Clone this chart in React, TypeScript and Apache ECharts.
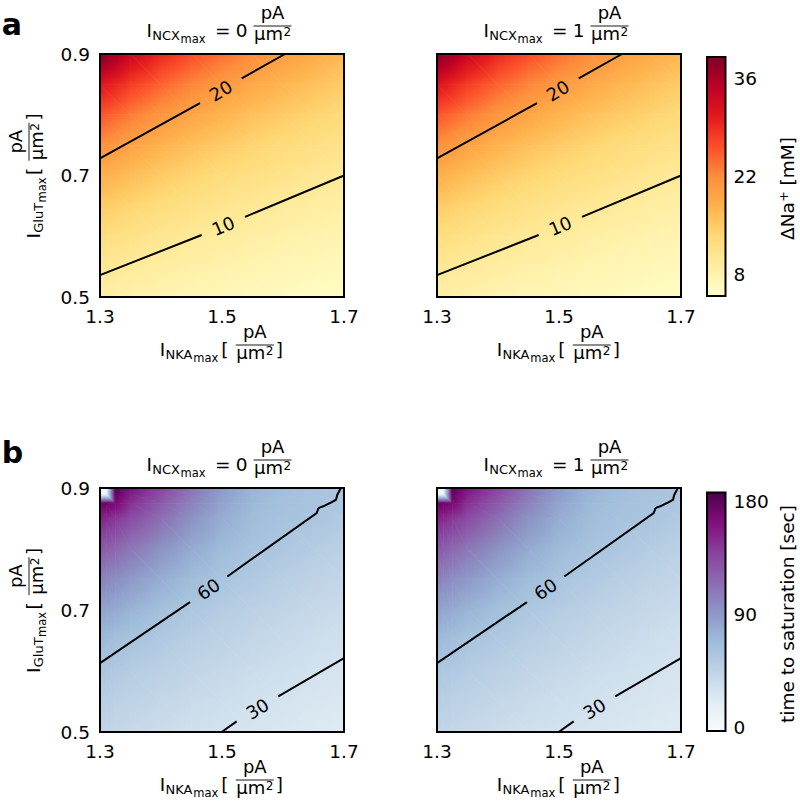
import React, { useEffect, useRef } from 'react';
import * as echarts from 'echarts';

const FONT = 'DejaVu Sans';

// ---------------- data ----------------
// axis ticks
const xTickValues = [1.3, 1.5, 1.7];
const yTickValues = [0.5, 0.7, 0.9];
const ncxValues = ['0', '1'];

// Panel a: ΔNa+ [mM] at grid nodes (rows top 0.9 -> bottom 0.5)
const naXNodes = [1.3, 1.35, 1.4, 1.45, 1.5, 1.55, 1.6, 1.65, 1.7];
const naYNodes = [0.9, 0.85, 0.8, 0.75, 0.7, 0.65, 0.6, 0.55, 0.5];
const naValues = [
  [39.0, 33.5, 29.3, 26.5, 24.0, 21.9, 20.1, 18.6, 17.2],
  [31.5, 27.7, 24.8, 22.5, 20.6, 18.9, 17.4, 16.2, 15.0],
  [25.9, 23.3, 21.0, 19.2, 17.6, 16.2, 15.1, 14.1, 13.1],
  [21.7, 19.6, 17.8, 16.3, 15.1, 14.0, 13.0, 12.2, 11.5],
  [18.1, 16.5, 15.1, 13.9, 12.9, 12.0, 11.3, 10.6, 10.0],
  [15.1, 13.9, 12.8, 11.9, 11.0, 10.4, 9.7, 9.2, 8.7],
  [12.6, 11.7, 10.8, 10.1, 9.5, 8.9, 8.4, 8.0, 7.6],
  [10.5, 9.8, 9.1, 8.6, 8.1, 7.7, 7.3, 7.0, 6.7],
  [8.8, 8.2, 7.7, 7.3, 6.9, 6.6, 6.3, 6.0, 5.8],
];
const naRange = [5, 39];
const naTicks = [8, 22, 36];
const naContour10 = [
  [[1.3, 0.536], [1.4667, 0.602]],
  [[1.5377, 0.632], [1.7, 0.7]],
];
const naContour20 = [
  [[1.3, 0.728], [1.4639, 0.819]],
  [[1.5323, 0.86], [1.6033, 0.9]],
];
// [x1, y1, x2, y2, level]: ends of the gap that holds the inline label
const naLabels = [
  [1.4667, 0.602, 1.5377, 0.632, 10],
  [1.4639, 0.819, 1.5323, 0.86, 20],
];

// Panel b: time to saturation [sec] at grid nodes (rows top 0.9 -> bottom 0.5)
const satXNodes = [1.3, 1.31, 1.325, 1.35, 1.4, 1.45, 1.5, 1.55, 1.6, 1.65, 1.7];
const satYNodes = [0.9, 0.89, 0.875, 0.85, 0.8, 0.75, 0.7, 0.65, 0.6, 0.55, 0.5];
const satValues = [
  [5, 5, 185, 162.5, 137.2, 111.8, 89.6, 73.6, 65.5, 61.6, 59.5],
  [5, 5, 180, 156.3, 132.1, 108.0, 87.2, 72.3, 64.7, 61.2, 58.8],
  [178, 176, 168, 147.3, 124.8, 102.7, 83.7, 70.4, 63.7, 60.7, 57.7],
  [154.8, 150.6, 144.5, 133.4, 113.5, 94.3, 78.3, 67.3, 62.0, 59.1, 54.1],
  [126.8, 123.3, 118.3, 109.5, 93.8, 79.6, 68.4, 61.5, 56.8, 51.9, 47.6],
  [103.8, 101.0, 96.8, 89.9, 77.6, 67.1, 59.7, 54.4, 49.7, 45.5, 41.8],
  [85.0, 82.7, 79.3, 73.8, 64.2, 57.2, 52.0, 47.5, 43.5, 39.9, 36.8],
  [69.6, 67.7, 64.9, 60.5, 54.7, 49.7, 45.3, 41.5, 38.1, 35.0, 32.3],
  [57.7, 56.6, 54.9, 52.2, 47.4, 43.2, 39.5, 36.2, 33.3, 30.7, 28.4],
  [49.8, 48.8, 47.4, 45.2, 41.1, 37.6, 34.4, 31.6, 29.2, 26.9, 25.0],
  [42.9, 42.1, 40.9, 39.1, 35.7, 32.6, 30.0, 27.6, 25.5, 23.6, 22.0],
];
const satRange = [-3, 187];
const satTicks = [0, 90, 180];
const satContour60 = [
  [[1.3, 0.613], [1.4475, 0.713]],
  [[1.5087, 0.755], [1.6552, 0.859], [1.6579, 0.8661], [1.6607, 0.8683], [1.6661, 0.87],
   [1.677, 0.8754], [1.6869, 0.8808], [1.689, 0.889], [1.6934, 0.8972], [1.6946, 0.9]],
];
const satContour30 = [
  [[1.4995, 0.5], [1.524, 0.5175]],
  [[1.5923, 0.5585], [1.7, 0.621]],
];
const satLabels = [
  [1.4475, 0.713, 1.5087, 0.755, 60],
  [1.524, 0.5175, 1.5923, 0.5585, 30],
];

// colormaps (matplotlib YlOrRd / BuPu)
const YLORRD = ['#ffffcc', '#ffeda0', '#fed976', '#feb24c', '#fd8d3c', '#fc4e2a', '#e31a1c', '#bd0026', '#800026'];
const BUPU = ['#f7fcfd', '#e0ecf4', '#bfd3e6', '#9ebcda', '#8c96c6', '#8c6bb1', '#88419d', '#810f7c', '#4d004b'];

// ---------------- helpers ----------------
function hexToRgb(h: string) {
  return [parseInt(h.slice(1, 3), 16), parseInt(h.slice(3, 5), 16), parseInt(h.slice(5, 7), 16)];
}
function cmap(stops: string[], t: number) {
  const tt = Math.max(0, Math.min(1, t));
  const pos = tt * (stops.length - 1);
  const i = Math.min(stops.length - 2, Math.floor(pos));
  const f = pos - i;
  const a = hexToRgb(stops[i]);
  const b = hexToRgb(stops[i + 1]);
  const c = a.map((v, k) => Math.round(v + (b[k] - v) * f));
  return `rgb(${c[0]},${c[1]},${c[2]})`;
}

function triangle(pts: number[][], vals: number[], stops: string[], range: number[]) {
  const [p0, p1, p2] = pts;
  const [v0, v1, v2] = vals;
  const toT = (v: number) => (v - range[0]) / (range[1] - range[0]);
  const e1x = p1[0] - p0[0], e1y = p1[1] - p0[1];
  const e2x = p2[0] - p0[0], e2y = p2[1] - p0[1];
  const det = e1x * e2y - e1y * e2x;
  const vmin = Math.min(v0, v1, v2), vmax = Math.max(v0, v1, v2);
  let fill: any;
  if (vmax - vmin < 1e-9 || Math.abs(det) < 1e-9) {
    fill = cmap(stops, toT((v0 + v1 + v2) / 3));
  } else {
    const dv1 = v1 - v0, dv2 = v2 - v0;
    const gx = (dv1 * e2y - dv2 * e1y) / det;
    const gy = (dv2 * e1x - dv1 * e2x) / det;
    const g2 = gx * gx + gy * gy;
    const A = pts[vals.indexOf(vmin)];
    const Bx = A[0] + ((vmax - vmin) * gx) / g2;
    const By = A[1] + ((vmax - vmin) * gy) / g2;
    const N = 6;
    const cs: any[] = [];
    for (let s = 0; s < N; s++) {
      const u = s / (N - 1);
      cs.push({ offset: u, color: cmap(stops, toT(vmin + u * (vmax - vmin))) });
    }
    fill = new echarts.graphic.LinearGradient(A[0], A[1], Bx, By, cs, true);
  }
  return {
    type: 'polygon',
    shape: { points: pts },
    style: { fill, stroke: fill, lineWidth: 0.8 },
  };
}

function fieldSeries(k: number, xs: number[], ys: number[], vals: number[][], stops: string[], range: number[]) {
  const cells: number[][] = [];
  for (let j = 0; j < ys.length - 1; j++) {
    for (let i = 0; i < xs.length - 1; i++) cells.push([xs[i], ys[j], i, j]);
  }
  return {
    type: 'custom',
    coordinateSystem: 'cartesian2d',
    xAxisIndex: k,
    yAxisIndex: k,
    silent: true,
    z: 1,
    encode: { x: 0, y: 1 },
    data: cells,
    renderItem: (params: any, api: any) => {
      const i = api.value(2), j = api.value(3);
      const tl = api.coord([xs[i], ys[j]]);
      const tr = api.coord([xs[i + 1], ys[j]]);
      const bl = api.coord([xs[i], ys[j + 1]]);
      const br = api.coord([xs[i + 1], ys[j + 1]]);
      const vtl = vals[j][i], vtr = vals[j][i + 1], vbl = vals[j + 1][i], vbr = vals[j + 1][i + 1];
      return {
        type: 'group',
        children: [
          triangle([tl, tr, br], [vtl, vtr, vbr], stops, range),
          triangle([tl, br, bl], [vtl, vbr, vbl], stops, range),
        ],
      };
    },
  };
}

function contourSeries(k: number, segs: number[][][]) {
  return {
    type: 'lines',
    coordinateSystem: 'cartesian2d',
    xAxisIndex: k,
    yAxisIndex: k,
    polyline: true,
    silent: true,
    z: 5,
    lineStyle: { color: '#000', width: 2, opacity: 1 },
    data: segs.map((s) => ({ coords: s })),
  };
}

function labelSeries(k: number, labels: number[][]) {
  return {
    type: 'custom',
    coordinateSystem: 'cartesian2d',
    xAxisIndex: k,
    yAxisIndex: k,
    silent: true,
    z: 6,
    encode: { x: 0, y: 1 },
    data: labels,
    renderItem: (params: any, api: any) => {
      const p1 = api.coord([api.value(0), api.value(1)]);
      const p2 = api.coord([api.value(2), api.value(3)]);
      const ang = Math.atan2(-(p2[1] - p1[1]), p2[0] - p1[0]);
      return {
        type: 'text',
        x: (p1[0] + p2[0]) / 2,
        y: (p1[1] + p2[1]) / 2,
        rotation: ang,
        style: {
          text: String(api.value(4)),
          fontSize: 18,
          fontFamily: FONT,
          fill: '#000',
          align: 'center',
          textAlign: 'center',
          verticalAlign: 'middle',
          textVerticalAlign: 'middle',
        },
      };
    },
  };
}

function colorbarSeries(k: number, stops: string[], range: number[]) {
  return {
    type: 'custom',
    coordinateSystem: 'cartesian2d',
    xAxisIndex: k,
    yAxisIndex: k,
    silent: true,
    z: 1,
    encode: { x: 0, y: 1 },
    data: [[0, range[0], 1, range[1]]],
    renderItem: (params: any, api: any) => {
      const a = api.coord([api.value(0), api.value(3)]);
      const b = api.coord([api.value(2), api.value(1)]);
      const cs = stops.map((c, i) => ({ offset: i / (stops.length - 1), color: c }));
      return {
        type: 'rect',
        shape: { x: a[0], y: a[1], width: b[0] - a[0], height: b[1] - a[1] },
        style: { fill: new echarts.graphic.LinearGradient(0, 1, 0, 0, cs) },
      };
    },
  };
}

function textEl(t: string, x: number, baseline: number, fs: number, opts: any = {}) {
  return {
    type: 'text',
    x,
    y: baseline - 0.35 * fs,
    silent: true,
    style: {
      text: t,
      fontSize: fs,
      fontFamily: FONT,
      fontWeight: opts.bold ? 'bold' : 'normal',
      fill: '#000',
      align: opts.align || 'left',
      textAlign: opts.align || 'left',
      verticalAlign: 'middle',
      textVerticalAlign: 'middle',
    },
  };
}

function mathGroup(pieces: any[], x: number, y: number, rotation = 0) {
  return {
    type: 'group',
    x,
    y,
    rotation,
    silent: true,
    children: pieces.map((p) =>
      p.line
        ? { type: 'line', shape: { x1: p.line[0], y1: p.dy, x2: p.line[1], y2: p.dy }, style: { stroke: '#000', lineWidth: 0.9 } }
        : textEl(p.t, p.dx, p.dy, p.fs, { align: p.align })
    ),
  };
}

const FS = 18.5;
const FF = 18; // fraction parts
// fraction layout relative to the main baseline
const NUM = -18, BAR = -11, DEN = 3, SUP = -1;
const titlePieces = (val: string) => [
  { t: 'I', dx: 0, dy: 0, fs: FS },
  { t: 'NCX', dx: 5.8, dy: 3.5, fs: 13 },
  { t: 'max', dx: 34, dy: 6.5, fs: 11.5 },
  { t: '=', dx: 68.5, dy: 0, fs: FS },
  { t: val, dx: 89.3, dy: 0, fs: FS },
  { t: 'pA', dx: 126, dy: NUM, fs: FF, align: 'center' },
  { line: [107, 145], dy: BAR },
  { t: 'μm', dx: 107.5, dy: DEN, fs: FF },
  { t: '2', dx: 137, dy: SUP, fs: 12 },
];
const xLabelPieces = [
  { t: 'I', dx: 0, dy: 0, fs: FS },
  { t: 'NKA', dx: 5.8, dy: 3.5, fs: 13 },
  { t: 'max', dx: 33.5, dy: 6.5, fs: 11.5 },
  { t: '[', dx: 61.5, dy: 0, fs: FS },
  { t: 'pA', dx: 95, dy: NUM, fs: FF, align: 'center' },
  { line: [76, 114], dy: BAR },
  { t: 'μm', dx: 76.5, dy: DEN, fs: FF },
  { t: '2', dx: 106, dy: SUP, fs: 12 },
  { t: ']', dx: 116, dy: 0, fs: FS },
];
const yLabelPieces = [
  { t: 'I', dx: 0, dy: 0, fs: FS },
  { t: 'GluT', dx: 5.8, dy: 3.5, fs: 13 },
  { t: 'max', dx: 36, dy: 6.5, fs: 11.5 },
  { t: '[', dx: 63.5, dy: 0, fs: FS },
  { t: 'pA', dx: 96.8, dy: NUM, fs: FF, align: 'center' },
  { line: [77.8, 115.8], dy: BAR },
  { t: 'μm', dx: 78.3, dy: DEN, fs: FF },
  { t: '2', dx: 107.8, dy: SUP, fs: 12 },
  { t: ']', dx: 118, dy: 0, fs: FS },
];
const naCbPieces = [
  { t: 'ΔNa', dx: 0, dy: 0, fs: FS },
  { t: '+', dx: 38.3, dy: -6, fs: 12.5 },
  { t: '[mM]', dx: 54.5, dy: 0, fs: FS },
];

// layout (pixels)
const PLOTS = [
  { left: 100, top: 54, width: 244, height: 243 },
  { left: 437, top: 54, width: 244, height: 243 },
  { left: 100, top: 488, width: 244, height: 244 },
  { left: 437, top: 488, width: 244, height: 244 },
];
const CBARS = [
  { left: 707, top: 57, width: 18.5, height: 239 },
  { left: 707, top: 492.5, width: 18.5, height: 238.5 },
];

function buildOption() {
  const grids = [...PLOTS, ...CBARS].map((g) => ({
    ...g,
    show: true,
    z: 10,
    borderColor: '#000',
    borderWidth: 2,
    backgroundColor: 'transparent',
    containLabel: false,
  }));
  const axisFont = { fontSize: FS, fontFamily: FONT, color: '#000' };
  const xAxis: any[] = [];
  const yAxis: any[] = [];
  PLOTS.forEach((p, k) => {
    xAxis.push({
      gridIndex: k,
      type: 'value',
      min: xTickValues[0],
      max: xTickValues[xTickValues.length - 1],
      interval: 0.2,
      axisLine: { show: false },
      axisTick: { show: false },
      splitLine: { show: false },
      axisLabel: { ...axisFont, margin: 10, formatter: (v: number) => v.toFixed(1) },
    });
    yAxis.push({
      gridIndex: k,
      type: 'value',
      min: yTickValues[0],
      max: yTickValues[yTickValues.length - 1],
      interval: 0.2,
      axisLine: { show: false },
      axisTick: { show: false },
      splitLine: { show: false },
      axisLabel: { ...axisFont, show: k % 2 === 0, margin: 10, formatter: (v: number) => v.toFixed(1) },
    });
  });
  [
    { range: naRange, ticks: naTicks },
    { range: satRange, ticks: satTicks },
  ].forEach((cb, i) => {
    const k = 4 + i;
    xAxis.push({ gridIndex: k, type: 'value', min: 0, max: 1, show: false });
    yAxis.push({
      gridIndex: k,
      type: 'value',
      position: 'right',
      min: cb.range[0],
      max: cb.range[1],
      interval: 1,
      axisLine: { show: false },
      axisTick: { show: false },
      splitLine: { show: false },
      axisLabel: {
        ...axisFont,
        margin: 8,
        formatter: (v: number) => {
          const t = cb.ticks.find((tt) => Math.abs(tt - v) < 1e-6);
          return t === undefined ? '' : String(t);
        },
      },
    });
  });

  const series: any[] = [];
  [0, 1].forEach((k) => {
    series.push(fieldSeries(k, naXNodes, naYNodes, naValues, YLORRD, naRange));
    series.push(contourSeries(k, [...naContour10, ...naContour20]));
    series.push(labelSeries(k, naLabels));
  });
  [2, 3].forEach((k) => {
    series.push(fieldSeries(k, satXNodes, satYNodes, satValues, BUPU, satRange));
    series.push(contourSeries(k, [...satContour60, ...satContour30]));
    series.push(labelSeries(k, satLabels));
  });
  series.push(colorbarSeries(4, YLORRD, naRange));
  series.push(colorbarSeries(5, BUPU, satRange));

  const graphic: any[] = [];
  graphic.push(textEl('a', 1.8, 35, 30, { bold: true }));
  graphic.push(textEl('b', 1.8, 463, 30, { bold: true }));
  PLOTS.forEach((p, k) => {
    const cx = p.left + p.width / 2;
    graphic.push(mathGroup(titlePieces(ncxValues[k % 2]), cx - 75.5, p.top - 17));
    graphic.push(mathGroup(xLabelPieces, cx - 62.2, p.top + p.height + 59));
    if (k % 2 === 0) {
      const cy = p.top + p.height / 2;
      graphic.push(mathGroup(yLabelPieces, 40, cy + 63, Math.PI / 2));
    }
  });
  graphic.push(mathGroup(naCbPieces, 794, 240, Math.PI / 2));
  graphic.push({
    type: 'text',
    x: 794 - 0.35 * FS,
    y: 614,
    rotation: Math.PI / 2,
    silent: true,
    style: {
      text: 'time to saturation [sec]',
      fontSize: FS,
      fontFamily: FONT,
      fill: '#000',
      align: 'center',
      textAlign: 'center',
      verticalAlign: 'middle',
      textVerticalAlign: 'middle',
    },
  });

  return {
    animation: false,
    backgroundColor: '#fff',
    grid: grids,
    xAxis,
    yAxis,
    series,
    graphic,
  };
}

export default function App() {
  const ref = useRef<HTMLDivElement>(null);
  useEffect(() => {
    document.body.style.margin = '0';
    const chart = echarts.init(ref.current as HTMLDivElement, null, { renderer: 'svg' });
    chart.setOption(buildOption() as any);
    return () => chart.dispose();
  }, []);
  return <div ref={ref} style={{ width: 800, height: 808 }} />;
}
